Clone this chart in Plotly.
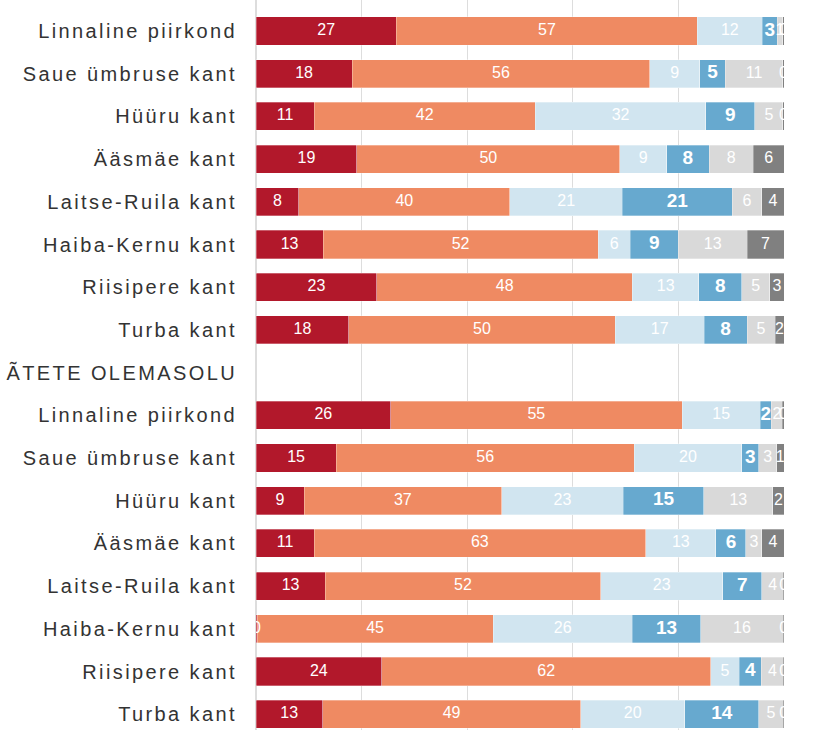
import plotly.graph_objects as go

categories = [
    "Linnaline piirkond", "Saue ümbruse kant", "Hüüru kant", "Ääsmäe kant",
    "Laitse-Ruila kant", "Haiba-Kernu kant", "Riisipere kant", "Turba kant",
    "ÃTETE OLEMASOLU",
    "Linnaline piirkond", "Saue ümbruse kant", "Hüüru kant", "Ääsmäe kant",
    "Laitse-Ruila kant", "Haiba-Kernu kant", "Riisipere kant", "Turba kant",
]

series_names = ["Väga hea", "Pigem hea", "Pigem halb", "Väga halb", "Ei oska öelda", "Ei vasta"]

red = [26.6, 18.2, 11.0, 19.1, 8.1, 12.7, 22.9, 17.6, None,
       25.5, 15.2, 9.1, 11.0, 13.1, 0.2, 23.8, 12.6]
orange = [57.0, 56.4, 41.9, 49.8, 40.0, 52.1, 48.4, 50.4, None,
          55.2, 56.4, 37.4, 62.8, 52.2, 44.7, 62.3, 48.9]
light_blue = [12.3, 9.4, 32.3, 8.9, 21.3, 6.1, 12.6, 16.9, None,
              14.8, 20.4, 23.1, 13.3, 23.1, 26.4, 5.4, 19.7]
blue = [2.8, 4.9, 9.3, 8.0, 20.8, 9.1, 8.1, 8.1, None,
        2.1, 3.2, 15.2, 5.7, 7.4, 12.9, 4.2, 14.0]
light_grey = [1.1, 10.9, 5.3, 8.4, 5.6, 13.0, 5.3, 5.3, None,
              2.1, 3.4, 13.1, 3.0, 4.1, 15.7, 4.2, 4.7]
dark_grey = [0.2, 0.2, 0.2, 5.8, 4.2, 7.0, 2.7, 1.7, None,
             0.3, 1.4, 2.1, 4.2, 0.1, 0.1, 0.1, 0.1]

series = [red, orange, light_blue, blue, light_grey, dark_grey]
colors = ["#b2182b", "#ef8a62", "#d1e5f0", "#67a9cf", "#d9d9d9", "#808080"]
bold = [False, False, False, True, False, False]

FONT = "Liberation Sans, Arial, Helvetica, sans-serif"
ypos = list(range(len(categories)))

fig = go.Figure()
for name, vals, col in zip(series_names, series, colors):
    fig.add_trace(go.Bar(
        y=ypos, x=vals, orientation="h", name=name,
        marker=dict(color=col, line=dict(color="rgba(255,255,255,0.6)", width=0.5)),
        hoverinfo="x+name",
    ))

# segment labels at segment centres
cum = [0.0] * len(categories)
for name, vals, is_bold in zip(series_names, series, bold):
    xs, ys, ts = [], [], []
    for i, v in enumerate(vals):
        if v is None:
            continue
        xs.append(cum[i] + v / 2)
        ys.append(i)
        ts.append(str(int(v + 0.5)))
        cum[i] += v
    fig.add_trace(go.Scatter(
        x=xs, y=ys, text=ts, mode="text", showlegend=False, hoverinfo="skip",
        textfont=dict(color="white", size=19 if is_bold else 16,
                      family=FONT, weight="bold" if is_bold else "normal"),
        cliponaxis=True,
    ))

n = len(categories)
fig.update_layout(
    width=828, height=730,
    margin=dict(l=256, r=44, t=0, b=0),
    barmode="stack", bargap=0.34,
    showlegend=False,
    plot_bgcolor="white", paper_bgcolor="white",
    font=dict(family=FONT),
)
fig.update_xaxes(range=[0, 100], dtick=20, showgrid=True, gridcolor="#dddddd",
                 gridwidth=1, zeroline=True, zerolinecolor="#dddddd",
                 showticklabels=False, showline=False, fixedrange=True,
                 automargin=False)
fig.update_yaxes(tickmode="array", tickvals=ypos, ticktext=categories,
                 range=[n - 0.63, -0.726], showgrid=False, zeroline=False,
                 ticks="", ticklabelstandoff=18, automargin=False,
                 tickfont=dict(size=20, color="#333333", family=FONT),
                 fixedrange=True)

post = """
document.body.style.margin = '0';
document.body.style.overflow = 'hidden';
var gd = document.getElementById('{plot_id}');
gd.querySelectorAll('.ytick text').forEach(function(t){
  t.setAttribute('letter-spacing', '2.4px');
});
"""
fig.write_html("out.html", post_script=post, config={"displayModeBar": False})
